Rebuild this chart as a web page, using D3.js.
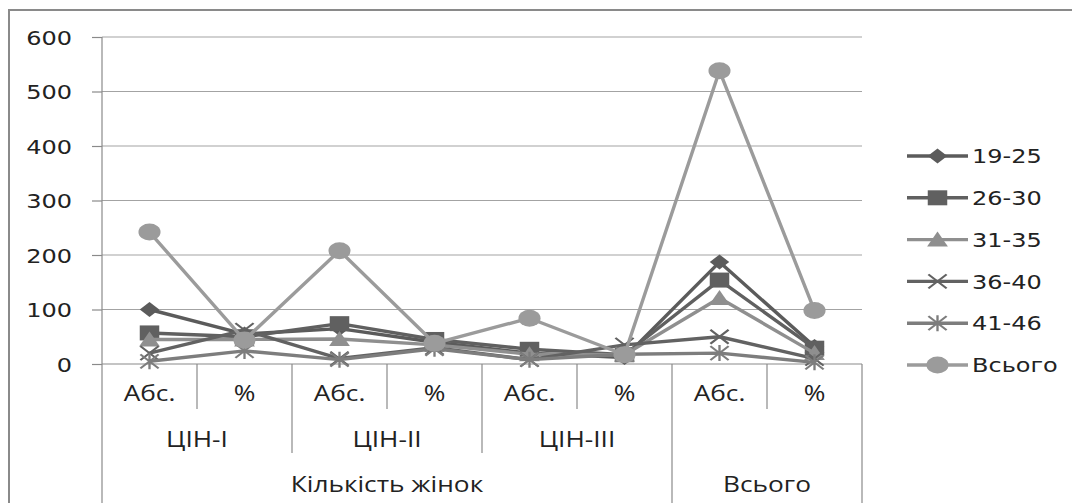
<!DOCTYPE html>
<html>
<head>
<meta charset="utf-8">
<script src="https://cdn.jsdelivr.net/npm/d3@7"></script>
<style>
  html, body { margin: 0; padding: 0; background: #fff; }
  svg { display: block; }
</style>
</head>
<body>
<svg id="chart" width="1072" height="503"></svg>
<script>
// ---- data ----
const categories = ["Абс.", "%", "Абс.", "%", "Абс.", "%", "Абс.", "%"];
const groups2 = [
  { label: "ЦІН-I", from: 0, to: 1 },
  { label: "ЦІН-II", from: 2, to: 3 },
  { label: "ЦІН-III", from: 4, to: 5 },
  { label: "", from: 6, to: 7 }
];
const groups3 = [
  { label: "Кількість жінок", from: 0, to: 5 },
  { label: "Всього", from: 6, to: 7 }
];
const seriesNames = ["19-25", "26-30", "31-35", "36-40", "41-46", "Всього"];
const s1925  = [100, 55, 65, 40, 20, 12, 187, 32];
const s2630  = [57, 50, 74, 45, 27, 17, 154, 29];
const s3135  = [45, 45, 46, 35, 18, 17, 121, 20];
const s3640  = [20, 62, 10, 30, 8, 35, 50, 10];
const s4146  = [5, 24, 8, 28, 8, 18, 20, 3];
const sTotal = [242, 44, 208, 38, 84, 17, 538, 98];
const yTicks = [0, 100, 200, 300, 400, 500, 600];

const seriesValues = [s1925, s2630, s3135, s3640, s4146, sTotal];
const seriesColors = ["#5b5b5b", "#606060", "#8f8f8f", "#626262", "#7d7d7d", "#9b9b9b"];
const seriesMarkers = ["diamond", "square", "triangle", "x", "star", "circle"];

// ---- layout ----
const svg = d3.select("#chart");
const plot = { left: 102, right: 862, top: 37, bottom: 364 };
const stretch = 1.22;

const x = d3.scaleBand().domain(d3.range(categories.length)).range([plot.left, plot.right]).padding(0);
const y = d3.scaleLinear().domain([0, 600]).range([plot.bottom, plot.top]);

function stretchText(sel, f) {
  sel.each(function () {
    const w = this.getComputedTextLength();
    d3.select(this).attr("textLength", w * (f || stretch)).attr("lengthAdjust", "spacingAndGlyphs");
  });
}

// outer border
svg.append("path").attr("d", "M9,503 L9,10 L1072,10")
  .attr("fill", "none").attr("stroke", "#8a8a8a").attr("stroke-width", 2);

// gridlines
svg.append("g").selectAll("line").data(yTicks.filter(d => d > 0)).join("line")
  .attr("x1", plot.left).attr("x2", plot.right)
  .attr("y1", d => y(d)).attr("y2", d => y(d))
  .attr("stroke", "#a3a3a3").attr("stroke-width", 1.2);

// y axis
const yAxis = d3.axisLeft(y).tickValues(yTicks).tickSize(10).tickPadding(20);
const gy = svg.append("g").attr("transform", `translate(${plot.left},0)`).call(yAxis);
gy.select(".domain").remove();
gy.selectAll(".tick line").attr("stroke", "#8a8a8a").attr("stroke-width", 1.2);
gy.selectAll(".tick text").attr("font-family", "DejaVu Sans").attr("font-size", 20)
  .attr("fill", "#222").attr("dy", "0.36em").call(stretchText, 1.2);
svg.append("line").attr("x1", plot.left).attr("x2", plot.left).attr("y1", plot.top).attr("y2", 503)
  .attr("stroke", "#8a8a8a").attr("stroke-width", 1.2);

// x axis baseline
svg.append("line").attr("x1", plot.left).attr("x2", plot.right).attr("y1", plot.bottom).attr("y2", plot.bottom)
  .attr("stroke", "#8a8a8a").attr("stroke-width", 1.2);

// category separators
const bw = x.bandwidth();
const sepBottom = [];
for (let i = 1; i <= categories.length; i++) {
  const xb = plot.left + i * bw;
  let bottom = 409;
  if (groups2.some(g => g.to === i - 1 && g.label !== "")) bottom = 453;
  if (groups3.some(g => g.to === i - 1)) bottom = 503;
  sepBottom.push({ x: xb, b: bottom });
}
svg.append("g").selectAll("line").data(sepBottom).join("line")
  .attr("x1", d => d.x).attr("x2", d => d.x).attr("y1", plot.bottom).attr("y2", d => d.b)
  .attr("stroke", "#8a8a8a").attr("stroke-width", 1.2);

// category labels
const labFont = "'Open Sans', sans-serif";
svg.append("g").selectAll("text").data(categories).join("text")
  .attr("x", (d, i) => x(i) + bw / 2).attr("y", 401)
  .attr("text-anchor", "middle").attr("font-family", labFont).attr("font-size", 21).attr("fill", "#222")
  .text(d => d).call(stretchText, 1.25);
svg.append("g").selectAll("text").data(groups2).join("text")
  .attr("x", d => (x(d.from) + x(d.to) + bw) / 2).attr("y", 447)
  .attr("text-anchor", "middle").attr("font-family", labFont).attr("font-size", 21).attr("fill", "#222")
  .text(d => d.label).call(stretchText, 1.25);
svg.append("g").selectAll("text").data(groups3).join("text")
  .attr("x", d => (x(d.from) + x(d.to) + bw) / 2).attr("y", 492)
  .attr("text-anchor", "middle").attr("font-family", labFont).attr("font-size", 21).attr("fill", "#222")
  .text(d => d.label).call(stretchText, 1.25);

// markers
function marker(g, type, color) {
  switch (type) {
    case "diamond":
      g.append("path").attr("d", "M0,-7.5 L7.5,0 L0,7.5 L-7.5,0 Z").attr("fill", color); break;
    case "square":
      g.append("rect").attr("x", -7.5).attr("y", -7.5).attr("width", 15).attr("height", 15).attr("fill", color); break;
    case "triangle":
      g.append("path").attr("d", "M0,-8 L8,7 L-8,7 Z").attr("fill", color); break;
    case "x":
      g.append("path").attr("d", "M-7,-7 L7,7 M-7,7 L7,-7").attr("stroke", color).attr("stroke-width", 1.8).attr("fill", "none"); break;
    case "star":
      g.append("path").attr("d", "M-7,-7 L7,7 M-7,7 L7,-7 M0,-8 L0,8").attr("stroke", color).attr("stroke-width", 1.8).attr("fill", "none"); break;
    case "circle":
      g.append("circle").attr("r", 8.5).attr("fill", color); break;
  }
}

const line = d3.line().x((d, i) => x(i) + bw / 2).y(d => y(d));
seriesValues.forEach((vals, si) => {
  const g = svg.append("g");
  g.append("path").datum(vals).attr("d", line).attr("fill", "none")
    .attr("stroke", seriesColors[si]).attr("stroke-width", 3.4).attr("stroke-linejoin", "round");
  vals.forEach((v, i) => {
    const m = g.append("g").attr("transform", `translate(${x(i) + bw / 2},${y(v)}) scale(1.3,1)`);
    marker(m, seriesMarkers[si], seriesColors[si]);
  });
});

// legend
const legY = d3.scaleLinear().domain([0, seriesNames.length - 1]).range([156, 365]);
seriesNames.forEach((name, si) => {
  const ly = legY(si);
  const g = svg.append("g");
  g.append("line").attr("x1", 907).attr("x2", 968).attr("y1", ly).attr("y2", ly)
    .attr("stroke", seriesColors[si]).attr("stroke-width", 3.4);
  const m = g.append("g").attr("transform", `translate(937.5,${ly}) scale(1.3,1)`);
  marker(m, seriesMarkers[si], seriesColors[si]);
  g.append("text").attr("x", 972).attr("y", ly).attr("dy", "0.36em")
    .attr("font-family", "DejaVu Sans").attr("font-size", 20).attr("fill", "#222")
    .text(name).call(stretchText, 1.2);
});
</script>
</body>
</html>
